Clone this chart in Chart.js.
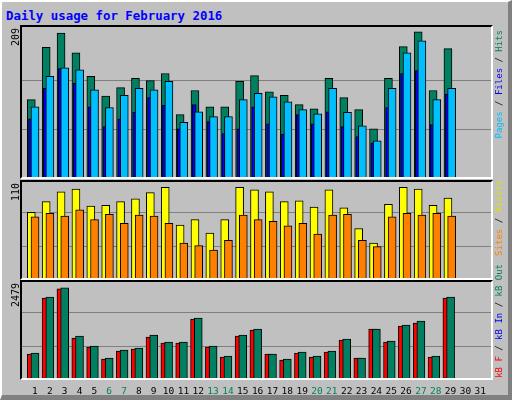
<!DOCTYPE html>
<html>
<head>
<meta charset="utf-8">
<script src="https://cdn.jsdelivr.net/npm/chart.js@4"></script>
<style>
  body { margin: 0; background: #c0c0c0; }
  #wrap { position: relative; width: 512px; height: 400px; background: #c0c0c0; overflow: hidden;
          box-sizing: border-box; border-left: 2px solid #fff; border-top: 2px solid #fff;
          border-right: 4px solid #808080; border-bottom: 5px solid #808080; }
  .abs { position: absolute; }
  canvas.abs { display: block; }
  .frame { position: absolute; box-sizing: border-box; border: 2px solid #000;
           border-right-color: #fff; border-bottom-color: #fff; pointer-events: none; }
  .title { left: 4px; top: 6px; font: bold 12.4px "DejaVu Sans Mono", monospace; color: #0000ff; white-space: nowrap; }
  .vt { writing-mode: vertical-rl; transform: rotate(180deg); white-space: nowrap; font-family: "DejaVu Sans Mono", monospace; }
  .lmax { font-size: 10px; color: #000; }
  .rlab { font-size: 9px; }
</style>
</head>
<body>
<div id="wrap">
  <div class="abs title">Daily usage for February 2016</div>

  <canvas id="c1" class="abs"></canvas>
  <canvas id="c2" class="abs"></canvas>
  <canvas id="c3" class="abs"></canvas>
  <div class="frame" style="left:18px;top:23px;width:473px;height:154px"></div>
  <div class="frame" style="left:18px;top:178px;width:473px;height:100px"></div>
  <div class="frame" style="left:18px;top:278px;width:473px;height:100px"></div>

  <div class="abs vt lmax" style="left:8px;top:26px">209</div>
  <div class="abs vt lmax" style="left:8px;top:181px">110</div>
  <div class="abs vt lmax" style="left:8px;top:281px">2479</div>

  <div class="abs vt rlab" style="left:492px;top:28px"><span style="color:#00bfff">Pages</span> / <span style="color:#0000ff">Files</span> / <span style="color:#008060">Hits</span></div>
  <div class="abs vt rlab" style="left:492px;top:178px"><span style="color:#ff8000">Sites</span> / <span style="color:#e0e000">Visits</span></div>
  <div class="abs vt rlab" style="left:492px;top:262px"><span style="color:#ff0000">kB F</span> / <span style="color:#0000ff">kB In</span> / <span style="color:#008060">kB Out</span></div>
</div>

<script>
/* ---------- DATA ---------- */
const days = Array.from({ length: 31 }, (_, i) => i + 1);
const weekendDays = [6, 7, 13, 14, 20, 21, 27, 28];

const hits  = [112,186,206,178,145,117,129,142,139,149,91,125,102,102,138,146,123,118,105,99,142,115,98,71,142,187,208,125,184];
const files = [102,145,157,154,126,101,118,128,126,138,80,95,88,88,112,121,116,109,98,92,128,94,75,54,128,178,195,112,128];
const pages = [85,128,156,135,102,74,85,94,115,104,71,105,81,64,71,102,78,63,91,78,95,74,60,51,101,149,153,77,120];

const visits = [74,86,97,100,81,82,86,89,96,102,60,66,51,66,102,99,97,86,87,80,99,79,56,40,83,102,100,82,90];
const sites  = [69,73,70,77,66,72,62,71,70,62,40,37,32,43,71,66,64,59,62,50,71,72,43,36,69,73,71,73,70];

const kbF   = [626,2028,2254,1027,801,501,701,751,1052,902,902,1502,801,551,1077,1227,626,476,651,551,676,977,526,1252,927,1327,1402,551,2028];
const kbIn  = [8,20,25,20,20,5,20,20,20,20,5,20,20,5,8,20,5,5,5,5,20,5,5,5,20,20,25,20,30];
const kbOut = [651,2053,2279,1077,826,526,726,776,1102,927,927,1527,826,576,1102,1252,626,501,676,576,701,1002,526,1252,952,1352,1452,576,2053];

const maxLabels = [209, 110, 2479];

/* ---------- HELPERS ---------- */
const PITCH = 14.88;
const X_MIN = 1 - 13 / PITCH;
const X_MAX = X_MIN + 471 / PITCH;

function pts(values, offPx) {
  return values.map((v, i) => ({ x: days[i] + offPx / PITCH, y: v }));
}

function bars(label, values, offPx, width, color) {
  return {
    label, data: pts(values, offPx), backgroundColor: color,
    borderColor: "#000", borderWidth: 1, barThickness: width, grouped: false
  };
}

function place(id, left, top, w, h) {
  const c = document.getElementById(id);
  c.style.left = left + "px"; c.style.top = top + "px";
  c.width = w; c.height = h;
  c.style.width = w + "px"; c.style.height = h + "px";
  return c;
}

function panel(canvas, datasets, yMax, gridStep, showX) {
  return new Chart(canvas, {
    type: "bar",
    data: { datasets },
    options: {
      responsive: false, animation: false, events: [],
      layout: { padding: 0 },
      plugins: { legend: { display: false }, tooltip: { enabled: false } },
      scales: {
        x: {
          type: "linear", min: X_MIN, max: X_MAX, offset: false,
          display: showX,
          afterBuildTicks: s => { s.ticks = days.map(d => ({ value: d })); },
          afterFit: s => { if (showX) s.height = 22; },
          grid: { display: false, drawTicks: false },
          border: { display: false },
          ticks: {
            padding: 7, autoSkip: false, maxRotation: 0,
            font: { family: "DejaVu Sans Mono", size: 9.5 },
            color: c => weekendDays.includes(c.tick.value) ? "#008060" : "#000"
          }
        },
        y: {
          min: 0, max: yMax, position: "left",
          afterBuildTicks: s => { s.ticks = [{ value: gridStep }, { value: gridStep * 2 }]; },
          afterFit: s => { s.width = 0; },
          ticks: { display: false },
          border: { display: false },
          grid: { color: "#808080", lineWidth: 1, drawTicks: false }
        }
      }
    },
    plugins: [{
      id: "bg",
      beforeDraw: ch => {
        const { ctx, chartArea: a } = ch;
        ctx.save(); ctx.fillStyle = "#c0c0c0";
        ctx.fillRect(0, 0, ch.width, ch.height); ctx.restore();
      }
    }]
  });
}

/* ---------- CHARTS ---------- */
// top: hits / files / pages  (first dataset drawn on top)
panel(place("c1", 20, 25, 471, 152), [
  bars("Files", files, 0, 8, "#00bfff"),
  bars("Pages", pages, -4.5, 4, "#0000ff"),
  bars("Hits", hits, -3.7, 8, "#008060")
], maxLabels[0] * 152 / 148, maxLabels[0] / 3, false);

// middle: visits / sites
panel(place("c2", 20, 180, 471, 97), [
  bars("Sites", sites, 0, 8, "#ff8000"),
  bars("Visits", visits, -3.7, 8, "#ffff00")
], 36.67 * 97 / 33, 36.67, false);

// bottom: kB F / kB In / kB Out
panel(place("c3", 20, 280, 471, 119), [
  bars("kB In", kbIn, -5, 3, "#0000ff"),
  bars("kB Out", kbOut, 0, 8, "#008060"),
  bars("kB F", kbF, -3.7, 8, "#ff0000")
], 826 * 97 / 33, 826, true);
</script>
</body>
</html>
